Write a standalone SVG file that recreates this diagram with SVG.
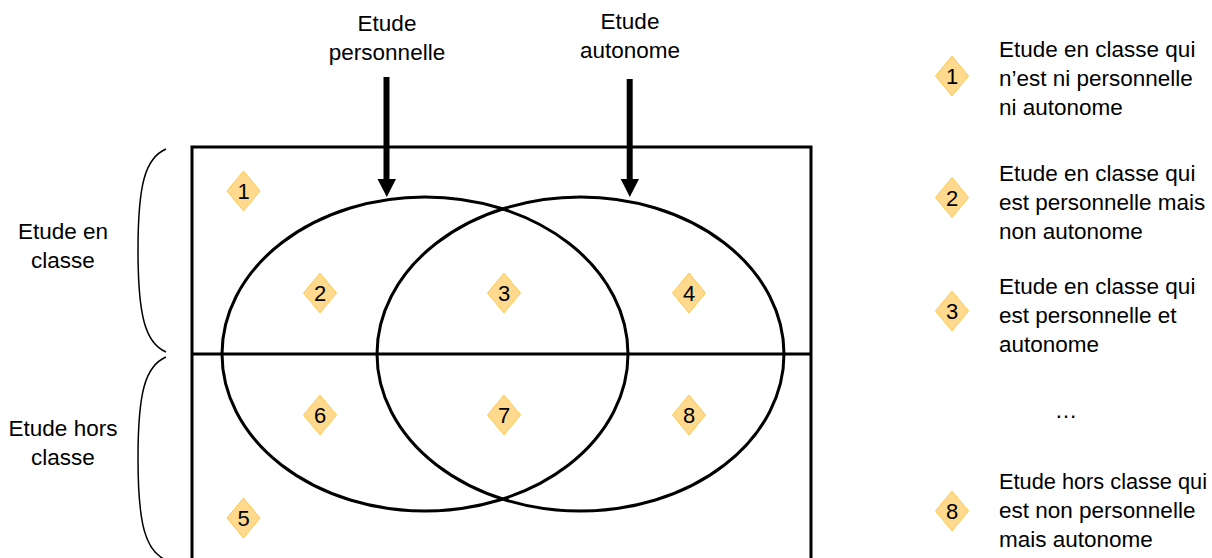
<svg xmlns="http://www.w3.org/2000/svg" width="1212" height="558" viewBox="0 0 1212 558">
<defs>
<style>
.t{font-family:"Liberation Sans",Arial,sans-serif;font-size:22.5px;fill:#000}
.c{text-anchor:middle}
.n{font-family:"Liberation Sans",Arial,sans-serif;font-size:22px;fill:#000;text-anchor:middle}
.d{fill:#FFD98E;stroke:#FFC94F;stroke-width:1}
.ln{fill:none;stroke:#000;stroke-width:3}
.br{fill:none;stroke:#000;stroke-width:1.5}
</style>
<polygon id="dia" class="d" points="0,-20 16.5,0 0,20 -16.5,0"/>
</defs>
<rect width="1212" height="558" fill="#fff"/>

<g id="frame">
<path class="ln" d="M192,562 V147 H811 V562"/>
<path class="ln" d="M192,354 H811"/>
</g>

<g id="set-personnelle">
<ellipse class="ln" cx="425" cy="354" rx="203" ry="157" stroke-width="3.2"/>
</g>
<g id="set-autonome">
<ellipse class="ln" cx="580.5" cy="354" rx="203.5" ry="157" stroke-width="3.2"/>
</g>

<g id="connectors">
<path d="M386.5,77 V180" stroke="#000" stroke-width="6" fill="none"/>
<polygon points="377.5,179 396,179 386.8,197" fill="#000"/>
<path d="M629.7,79 V180" stroke="#000" stroke-width="6" fill="none"/>
<polygon points="620.7,179 639,179 629.8,197" fill="#000"/>
</g>

<g id="label-personnelle">
<text class="t c" x="387" y="30.5">Etude</text>
<text class="t c" x="387" y="59.5">personnelle</text>
</g>
<g id="label-autonome">
<text class="t c" x="630" y="29">Etude</text>
<text class="t c" x="630" y="58">autonome</text>
</g>

<g id="brace-en-classe">
<path class="br" d="M166,149 C145,158 138,185 138,250 C138,315 145,343 166,352"/>
<text class="t c" x="63" y="239">Etude en</text>
<text class="t c" x="63" y="268">classe</text>
</g>
<g id="brace-hors-classe">
<path class="br" d="M166,357 C145,366 138,393 138,458 C138,523 145,551 166,560"/>
<text class="t c" x="63" y="436">Etude hors</text>
<text class="t c" x="63" y="465">classe</text>
</g>

<g id="region-1"><use href="#dia" x="243.5" y="191"/><text class="n" x="243.5" y="199">1</text></g>
<g id="region-2"><use href="#dia" x="320" y="293"/><text class="n" x="320" y="301">2</text></g>
<g id="region-3"><use href="#dia" x="504" y="293"/><text class="n" x="504" y="301">3</text></g>
<g id="region-4"><use href="#dia" x="689" y="293"/><text class="n" x="689" y="301">4</text></g>
<g id="region-5"><use href="#dia" x="243.5" y="518"/><text class="n" x="243.5" y="526">5</text></g>
<g id="region-6"><use href="#dia" x="320" y="415"/><text class="n" x="320" y="423">6</text></g>
<g id="region-7"><use href="#dia" x="504" y="415"/><text class="n" x="504" y="423">7</text></g>
<g id="region-8"><use href="#dia" x="689" y="415"/><text class="n" x="689" y="423">8</text></g>

<g id="legend-1">
<use href="#dia" x="952" y="76"/><text class="n" x="952" y="84">1</text>
<text class="t" x="999" y="57">Etude en classe qui</text>
<text class="t" x="999" y="86">n’est ni personnelle</text>
<text class="t" x="999" y="115">ni autonome</text>
</g>
<g id="legend-2">
<use href="#dia" x="952" y="197.5"/><text class="n" x="952" y="205.5">2</text>
<text class="t" x="999" y="181">Etude en classe qui</text>
<text class="t" x="999" y="210">est personnelle mais</text>
<text class="t" x="999" y="239">non autonome</text>
</g>
<g id="legend-3">
<use href="#dia" x="952" y="311"/><text class="n" x="952" y="319">3</text>
<text class="t" x="999" y="294">Etude en classe qui</text>
<text class="t" x="999" y="323">est personnelle et</text>
<text class="t" x="999" y="352">autonome</text>
</g>
<g id="legend-ellipsis">
<text class="t c" x="1066" y="418">…</text>
</g>
<g id="legend-8">
<use href="#dia" x="952" y="511"/><text class="n" x="952" y="519">8</text>
<text class="t" x="999" y="489" textLength="208" lengthAdjust="spacingAndGlyphs">Etude hors classe qui</text>
<text class="t" x="999" y="518">est non personnelle</text>
<text class="t" x="999" y="547">mais autonome</text>
</g>
</svg>
